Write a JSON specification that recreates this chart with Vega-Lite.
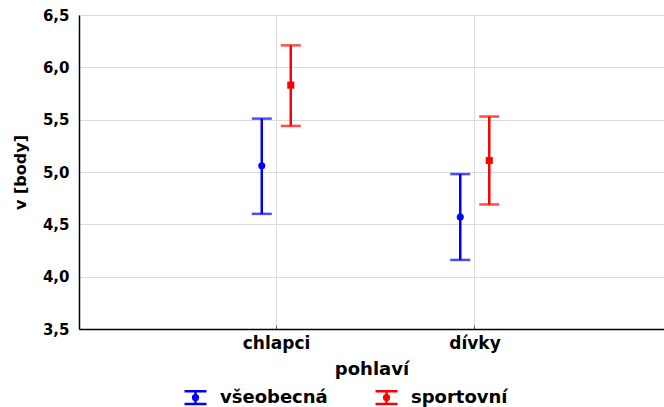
{
  "$schema": "https://vega.github.io/schema/vega-lite/v6.json",
  "width": 585,
  "height": 314,
  "autosize": {"type": "none"},
  "padding": {"left": 79, "top": 15, "right": 0, "bottom": 78},
  "background": "white",
  "config": {
    "view": {"stroke": "#808080", "strokeWidth": 1},
    "font": "DejaVu Sans",
    "axis": {"labelFont": "DejaVu Sans", "titleFont": "DejaVu Sans", "labelFontWeight": "bold", "titleFontWeight": "bold", "labelColor": "black", "titleColor": "black", "gridColor": "#dcdcdc", "gridWidth": 1, "domainColor": "black"}
  },
  "data": {
    "values": [
      {"pohlavi": "chlapci", "skupina": "všeobecná", "mean": 5.06, "lo": 4.60, "hi": 5.51},
      {"pohlavi": "chlapci", "skupina": "sportovní", "mean": 5.83, "lo": 5.44, "hi": 6.21},
      {"pohlavi": "dívky", "skupina": "všeobecná", "mean": 4.57, "lo": 4.16, "hi": 4.98},
      {"pohlavi": "dívky", "skupina": "sportovní", "mean": 5.11, "lo": 4.69, "hi": 5.53}
    ]
  },
  "encoding": {
    "x": {
      "field": "pohlavi", "type": "nominal", "sort": ["chlapci", "dívky"],
      "scale": {"paddingInner": 0, "paddingOuter": 0.4737, "align": 0.5226},
      "axis": {"title": "pohlaví", "labelAngle": 0, "labelFontSize": 17, "titleFontSize": 18, "labelPadding": 10, "titlePadding": 9, "grid": true, "bandPosition": 0.5, "tickSize": -4, "tickColor": "#606060", "domainWidth": 1.5}
    },
    "xOffset": {
      "field": "skupina", "type": "nominal", "sort": ["všeobecná", "sportovní"],
      "scale": {"paddingInner": 0, "paddingOuter": 0, "range": [70, 128]}
    },
    "color": {
      "field": "skupina", "type": "nominal", "sort": ["všeobecná", "sportovní"],
      "scale": {"domain": ["všeobecná", "sportovní"], "range": ["#0000ff", "#ff0000"]},
      "legend": {
        "title": null, "orient": "none", "direction": "horizontal", "padding": 0,
        "legendX": 107, "legendY": 373,
        "symbolType": "M-1.375,-0.8H1.375M0,-0.8V0.8M-1.375,0.8H1.375M-0.3,0A0.3,0.3 0 1,0 0.3,0A0.3,0.3 0 1,0 -0.3,0",
        "symbolSize": 256, "symbolStrokeWidth": 2.5,
        "labelFont": "DejaVu Sans", "labelFontSize": 18, "labelFontWeight": "bold", "labelColor": "black",
        "labelOffset": 15, "columnPadding": 42,
        "encode": {"symbols": {"update": {"fill": {"scale": "color", "field": "value"}}}}
      }
    }
  },
  "layer": [
    {
      "mark": {"type": "rule", "strokeWidth": 2.5},
      "encoding": {
        "y": {"field": "lo", "type": "quantitative", "scale": {"domain": [3.5, 6.5], "nice": false, "zero": false},
          "axis": {"title": "v [body]", "values": [3.5, 4, 4.5, 5, 5.5, 6, 6.5], "labelExpr": "replace(format(datum.value, '.1f'), '.', ',')", "labelFontSize": 15, "titleFontSize": 16, "ticks": false, "labelPadding": 10, "titlePadding": 14, "domainWidth": 1.5}},
        "y2": {"field": "hi"}
      }
    },
    {
      "mark": {"type": "tick", "thickness": 2.5, "size": 20},
      "encoding": {"y": {"field": "lo", "type": "quantitative"}}
    },
    {
      "mark": {"type": "tick", "thickness": 2.5, "size": 20},
      "encoding": {"y": {"field": "hi", "type": "quantitative"}}
    },
    {
      "transform": [{"filter": "datum.skupina === 'všeobecná'"}],
      "mark": {"type": "point", "shape": "circle", "filled": true, "opacity": 1, "size": 50},
      "encoding": {"y": {"field": "mean", "type": "quantitative"}}
    },
    {
      "transform": [{"filter": "datum.skupina === 'sportovní'"}],
      "mark": {"type": "point", "shape": "square", "filled": true, "opacity": 1, "size": 50},
      "encoding": {"y": {"field": "mean", "type": "quantitative"}}
    }
  ]
}
